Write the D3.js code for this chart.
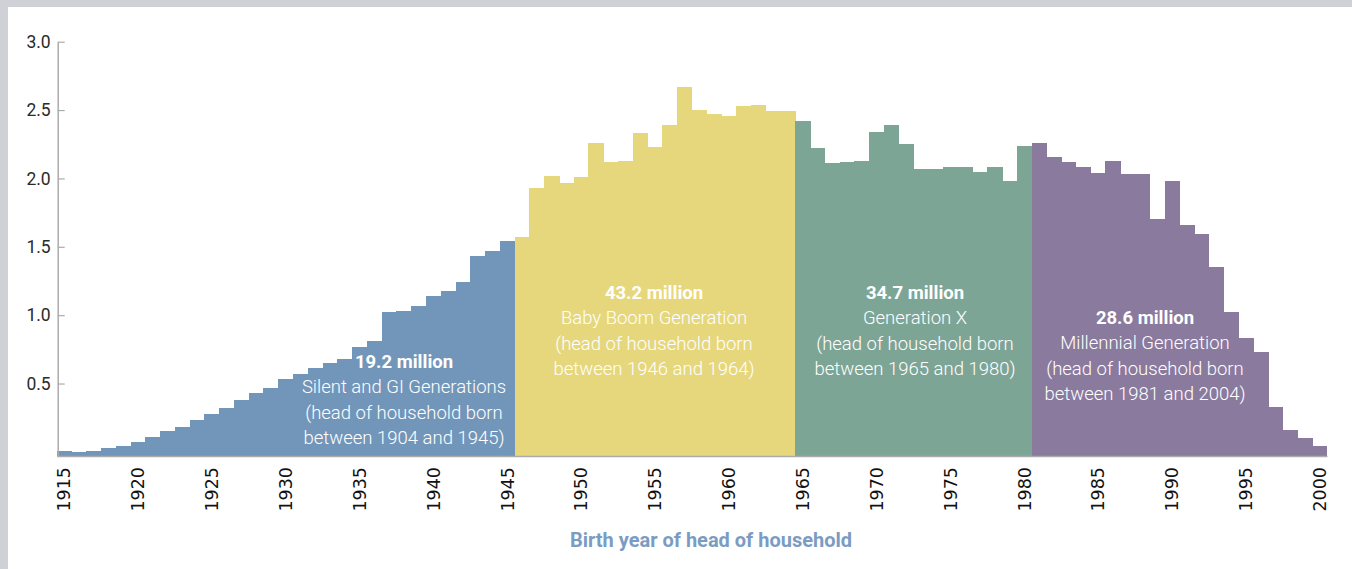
<!DOCTYPE html>
<html>
<head>
<meta charset="utf-8">
<script src="https://cdn.jsdelivr.net/npm/d3@7"></script>
<style>
  html, body { margin: 0; padding: 0; background: #ffffff; }
  svg { display: block; }
</style>
</head>
<body>
<svg id="chart" width="1352" height="569"></svg>
<script>
// Households (millions) by birth year of the head of household
const birthYears = [
  1915, 1916, 1917, 1918, 1919, 1920, 1921, 1922, 1923, 1924,
  1925, 1926, 1927, 1928, 1929, 1930, 1931, 1932, 1933, 1934,
  1935, 1936, 1937, 1938, 1939, 1940, 1941, 1942, 1943, 1944,
  1945, 1946, 1947, 1948, 1949, 1950, 1951, 1952, 1953, 1954,
  1955, 1956, 1957, 1958, 1959, 1960, 1961, 1962, 1963, 1964,
  1965, 1966, 1967, 1968, 1969, 1970, 1971, 1972, 1973, 1974,
  1975, 1976, 1977, 1978, 1979, 1980, 1981, 1982, 1983, 1984,
  1985, 1986, 1987, 1988, 1989, 1990, 1991, 1992, 1993, 1994,
  1995, 1996, 1997, 1998, 1999, 2000
];

const households = [
  0.01, 0.00, 0.01, 0.03, 0.04, 0.07, 0.11, 0.15, 0.18, 0.23,
  0.28, 0.32, 0.38, 0.43, 0.47, 0.53, 0.57, 0.61, 0.65, 0.68,
  0.77, 0.81, 1.02, 1.03, 1.07, 1.14, 1.18, 1.24, 1.43, 1.47,
  1.54, 1.57, 1.93, 2.02, 1.97, 2.01, 2.26, 2.12, 2.13, 2.33,
  2.23, 2.39, 2.67, 2.50, 2.47, 2.46, 2.53, 2.54, 2.49, 2.49,
  2.42, 2.22, 2.11, 2.12, 2.13, 2.34, 2.39, 2.25, 2.07, 2.07,
  2.08, 2.08, 2.05, 2.08, 1.98, 2.24, 2.26, 2.16, 2.12, 2.08,
  2.04, 2.13, 2.03, 2.03, 1.70, 1.98, 1.66, 1.59, 1.35, 1.02,
  0.83, 0.73, 0.33, 0.16, 0.10, 0.04
];

// Generations: last birth year of each group, totals and description lines
const generationNames = ["Silent and GI Generations", "Baby Boom Generation", "Generation X", "Millennial Generation"];
const generationEnds = [1945, 1964, 1980, 2004];
const generationTotals = ["19.2 million", "43.2 million", "34.7 million", "28.6 million"];
const generationSpans = [
  "between 1904 and 1945)",
  "between 1946 and 1964)",
  "between 1965 and 1980)",
  "between 1981 and 2004)"
];

const yTickValues = [0.5, 1.0, 1.5, 2.0, 2.5, 3.0];
const xTickValues = [1915, 1920, 1925, 1930, 1935, 1940, 1945, 1950, 1955, 1960,
                     1965, 1970, 1975, 1980, 1985, 1990, 1995, 2000];
const xAxisTitle = "Birth year of head of household";

// ---- styling ----
const generationColors = ["#7296ba", "#e6d77c", "#7da596", "#8a7a9e"];
const labelFont = "Roboto, 'Liberation Sans', Arial, sans-serif";

const svg = d3.select("#chart");

// page frame
svg.append("rect").attr("x", 0).attr("y", 0).attr("width", 1352).attr("height", 569).attr("fill", "#ffffff");
svg.append("rect").attr("x", 0).attr("y", 0).attr("width", 1352).attr("height", 7).attr("fill", "#d0d1d6");
svg.append("rect").attr("x", 0).attr("y", 0).attr("width", 8).attr("height", 569).attr("fill", "#d0d1d6");

const plot = { left: 57.7, right: 1327, top: 41.7, bottom: 456 };

const x = d3.scaleBand()
  .domain(birthYears)
  .range([plot.left - 1, plot.right])
  .paddingInner(0).paddingOuter(0);

const y = d3.scaleLinear()
  .domain([-0.03, 3.0])
  .range([plot.bottom, plot.top]);

function generationIndex(year) {
  return generationEnds.findIndex(end => year <= end);
}

const data = birthYears.map((yr, i) => ({ year: yr, value: households[i], gen: generationIndex(yr) }));

// bars
svg.append("g")
  .selectAll("rect")
  .data(data)
  .join("rect")
  .attr("x", d => x(d.year))
  .attr("width", d => x.bandwidth() + (d.year === birthYears[birthYears.length - 1] ? 0 : 0.6))
  .attr("y", d => y(d.value))
  .attr("height", d => y.range()[0] - y(d.value))
  .attr("fill", d => generationColors[d.gen])
  .attr("shape-rendering", "crispEdges");

// y axis
const yAxis = d3.axisLeft(y)
  .tickValues(yTickValues)
  .tickFormat(d3.format(".1f"))
  .tickSizeInner(-7)
  .tickSizeOuter(0)
  .tickPadding(7);

const gy = svg.append("g")
  .attr("transform", `translate(${plot.left},0)`)
  .call(yAxis);
gy.select(".domain").attr("stroke", "#ababab").attr("stroke-width", 1.5);
gy.selectAll(".tick line").attr("stroke", "#ababab").attr("stroke-width", 1.2);
gy.selectAll(".tick text")
  .attr("fill", "#2a2a2a")
  .style("font-family", labelFont)
  .style("font-size", "17.5px")
  .style("font-weight", 400);

// x axis
const xAxis = d3.axisBottom(x)
  .tickValues(xTickValues)
  .tickSize(0)
  .tickPadding(0);

const gx = svg.append("g")
  .attr("transform", `translate(0,${plot.bottom})`)
  .call(xAxis);
gx.select(".domain").attr("stroke", "#ababab").attr("stroke-width", 1.5);
gx.selectAll(".tick text")
  .attr("fill", "#111111")
  .attr("transform", "translate(0,11) rotate(-90)")
  .attr("text-anchor", "end")
  .attr("x", 0)
  .attr("y", 0)
  .attr("dy", "0.36em")
  .style("font-family", "'DejaVu Sans', sans-serif")
  .style("font-size", "17.5px")
  .style("font-weight", 400);

// axis title
svg.append("text")
  .attr("x", 711)
  .attr("y", 540)
  .attr("dy", "0.35em")
  .attr("text-anchor", "middle")
  .attr("fill", "#7b9cc2")
  .style("font-family", labelFont)
  .style("font-size", "20px")
  .style("font-weight", 700)
  .text(xAxisTitle);

// generation annotations
const annotationAnchors = [
  { cx: 404, top: 361 },
  { cx: 654, top: 292 },
  { cx: 915, top: 292 },
  { cx: 1145, top: 317 }
];
const lineGap = 25.6;

generationNames.forEach((name, i) => {
  const a = annotationAnchors[i];
  const lines = [
    { t: generationTotals[i], bold: true },
    { t: name, bold: false },
    { t: "(head of household born", bold: false },
    { t: generationSpans[i], bold: false }
  ];
  const g = svg.append("g");
  lines.forEach((ln, j) => {
    g.append("text")
      .attr("x", a.cx)
      .attr("y", a.top + j * lineGap)
      .attr("dy", "0.36em")
      .attr("text-anchor", "middle")
      .attr("fill", "#ffffff")
      .style("font-family", labelFont)
      .style("font-size", "18.5px")
      .style("font-weight", ln.bold ? 700 : 300)
      .text(ln.t);
  });
});
</script>
</body>
</html>
